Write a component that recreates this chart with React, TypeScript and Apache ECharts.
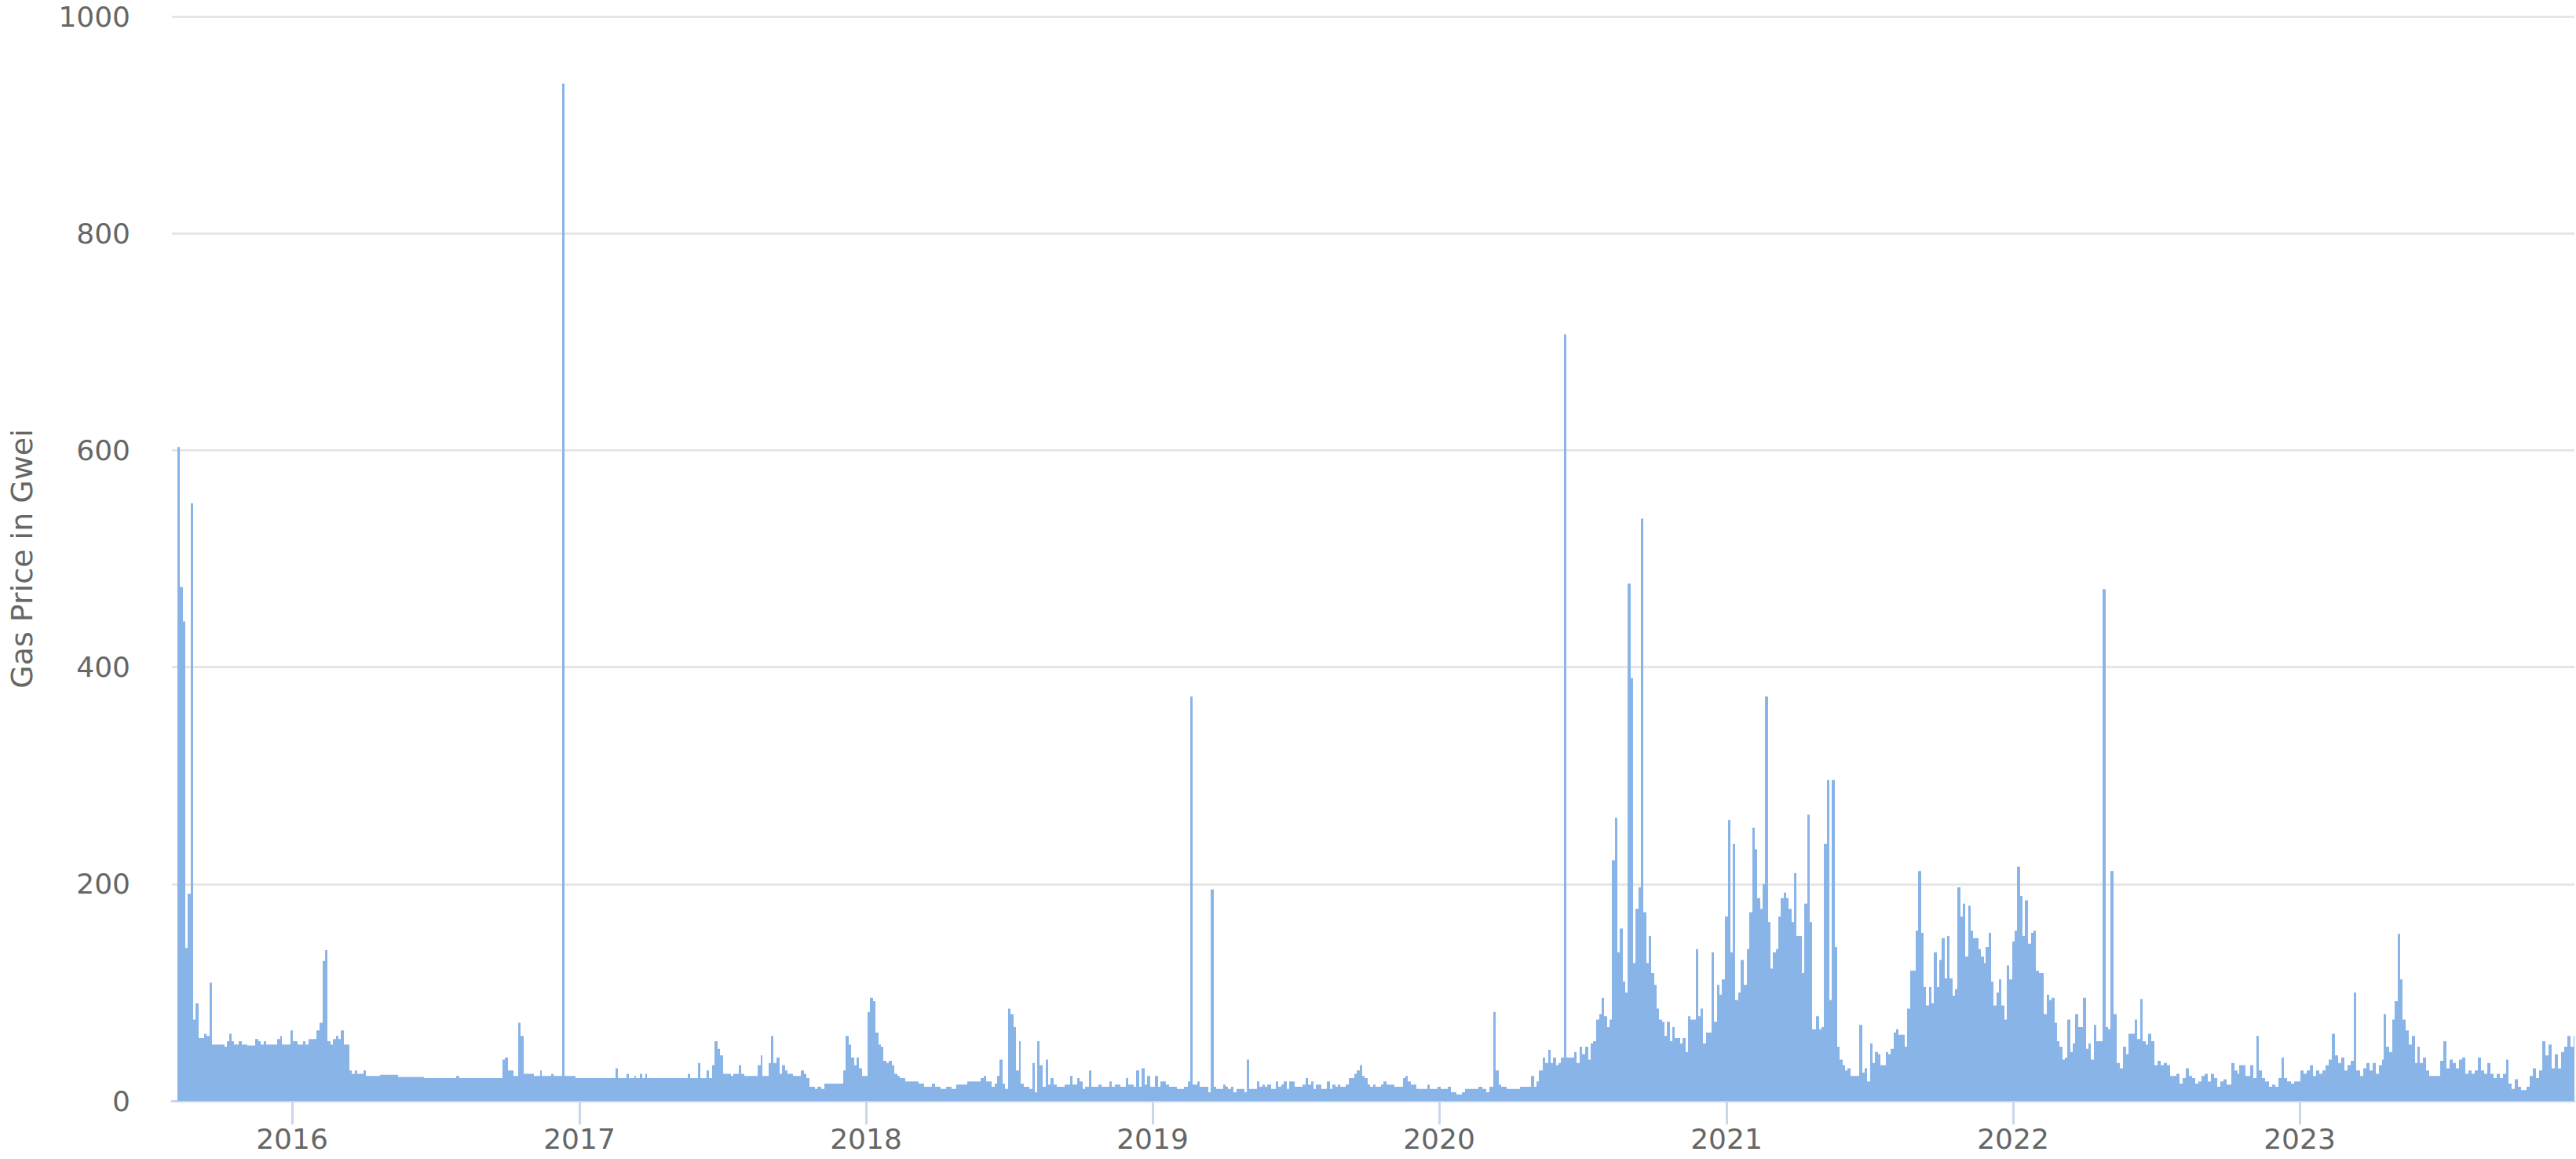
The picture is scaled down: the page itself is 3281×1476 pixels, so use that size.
import { useEffect, useRef } from 'react';
import * as echarts from 'echarts';

// Day 0 of every offset below is 2015-08-01. Each step is [days since start, gas price in Gwei];
// a step's value holds until the next step begins.
type Step = [number, number];

const yearTicks = ['2016', '2017', '2018', '2019', '2020', '2021', '2022', '2023'];
const END_DAY = 3060;

const gas2015: Step[] = [[7,603],[10,474],[14,442],[17,141],[20,191],[24,551],[27,75],[30,90],[34,58],[41,62],[44,60],[48,109],[51,52],[67,50],[70,55],[73,62],[76,55],[79,52],[85,55],[89,52],[96,51],[106,57],[110,55],[113,52],[117,55],[120,52],[134,57],[138,60],[140,52],[151,65]];

const gas2016: Step[] = [[154,55],[160,52],[167,55],[170,52],[174,57],[184,65],[188,72],[192,129],[195,139],[198,55],[202,52],[205,57],[209,60],[212,57],[215,65],[219,52],[226,28],[229,25],[233,28],[236,25],[244,28],[247,23],[265,24],[288,22],[321,21],[362,23],[366,21],[421,38],[424,40],[428,28],[435,23],[441,72],[444,60],[448,25],[461,23],[469,28],[471,23],[483,25],[486,23],[497,938],[500,23],[514,21]];

const gas2017: Step[] = [[565,30],[568,21],[579,25],[582,21],[589,23],[591,21],[596,25],[599,21],[603,25],[605,21],[657,25],[660,21],[670,35],[673,21],[681,28],[684,21],[688,33],[691,55],[695,48],[698,42],[702,25],[712,23],[715,25],[722,33],[725,25],[729,23],[746,33],[750,42],[752,23],[760,35],[763,60],[766,35],[770,40],[774,25],[777,33],[781,28],[784,25],[791,23],[801,28],[805,25],[808,21],[812,13],[819,11],[822,13],[827,11],[831,16],[855,28],[858,60],[862,52],[865,40],[869,33],[872,40],[875,30],[879,23]];

const gas2018: Step[] = [[886,82],[889,95],[893,92],[896,63],[900,52],[903,50],[906,37],[910,35],[913,37],[917,33],[920,25],[924,23],[927,21],[934,18],[951,16],[958,13],[968,16],[972,13],[979,11],[986,13],[993,11],[999,15],[1013,18],[1030,21],[1034,23],[1037,18],[1044,13],[1048,16],[1051,23],[1054,38],[1058,16],[1061,11],[1065,85],[1068,80],[1072,68],[1075,28],[1079,55],[1081,16],[1085,13],[1092,11],[1096,35],[1099,8],[1102,55],[1105,33],[1109,13],[1113,38],[1116,15],[1119,21],[1123,15],[1127,13],[1137,15],[1144,23],[1147,15],[1153,21],[1156,18],[1160,11],[1163,13],[1168,28],[1171,13],[1180,15],[1184,13],[1194,18],[1197,13],[1201,15],[1208,13],[1215,21],[1218,15],[1225,13],[1228,28],[1232,13],[1235,30],[1239,15],[1242,23],[1246,13]];

const gas2019: Step[] = [[1252,23],[1256,13],[1259,18],[1266,15],[1270,13],[1280,11],[1289,13],[1294,18],[1297,373],[1300,15],[1306,18],[1309,13],[1320,8],[1323,195],[1327,13],[1330,11],[1339,15],[1342,13],[1345,11],[1349,13],[1352,8],[1356,11],[1366,8],[1369,38],[1372,11],[1382,18],[1385,13],[1389,15],[1392,13],[1395,15],[1400,11],[1406,18],[1409,13],[1413,15],[1416,18],[1420,11],[1423,18],[1430,13],[1440,15],[1444,21],[1447,15],[1451,18],[1454,11],[1457,15],[1464,11],[1471,18],[1475,11],[1478,15],[1482,13],[1485,15],[1488,13],[1495,15],[1499,21],[1506,25],[1509,28],[1513,33],[1516,23],[1519,21],[1523,15],[1526,13],[1530,15],[1533,13],[1540,15],[1543,18],[1547,15],[1557,13],[1568,21],[1571,23],[1574,18],[1578,15],[1585,11],[1599,15],[1602,11],[1612,13]];

const gas2020: Step[] = [[1616,11],[1625,13],[1629,8],[1636,6],[1643,8],[1647,11],[1664,13],[1669,11],[1674,8],[1678,13],[1683,82],[1686,28],[1690,15],[1693,13],[1700,11],[1717,13],[1731,23],[1735,13],[1738,18],[1741,28],[1746,40],[1749,35],[1753,47],[1756,35],[1759,40],[1763,33],[1766,35],[1769,40],[1773,707],[1776,40],[1786,45],[1789,35],[1793,50],[1796,43],[1800,50],[1804,38],[1807,53],[1810,55],[1814,75],[1818,80],[1821,95],[1824,78],[1828,68],[1831,75],[1834,222],[1838,261],[1841,137],[1844,159],[1848,110],[1851,100],[1854,477],[1858,390],[1861,127],[1864,177],[1868,197],[1871,537],[1874,174],[1878,127],[1881,152],[1884,118],[1888,107],[1891,85],[1894,75],[1898,73],[1901,60],[1904,73],[1908,55],[1911,68],[1914,58],[1921,53],[1924,58],[1928,45],[1931,78],[1934,75],[1941,140],[1944,78],[1947,85],[1950,53],[1954,63],[1961,137],[1964,73],[1968,107],[1971,98],[1974,112],[1978,170]];

const gas2021: Step[] = [[1982,259],[1985,137],[1988,237],[1991,93],[1995,100],[1998,130],[2002,107],[2006,140],[2009,174],[2013,252],[2016,232],[2019,187],[2023,177],[2026,200],[2029,373],[2033,165],[2036,122],[2039,137],[2043,140],[2046,170],[2049,187],[2053,192],[2056,187],[2059,177],[2063,165],[2066,210],[2069,152],[2076,118],[2079,182],[2083,264],[2086,165],[2089,66],[2094,78],[2098,66],[2101,68],[2104,237],[2108,296],[2111,93],[2114,296],[2118,142],[2121,50],[2124,38],[2128,33],[2131,28],[2134,30],[2138,23],[2149,70],[2153,26],[2156,30],[2159,18],[2163,53],[2166,35],[2169,45],[2173,43],[2176,33],[2183,45],[2186,43],[2189,48],[2193,63],[2196,66],[2199,61],[2207,50],[2210,85],[2214,120],[2221,157],[2224,212],[2228,155],[2231,105],[2234,88],[2238,105],[2241,90],[2244,137],[2248,105],[2251,130],[2254,150],[2258,113],[2261,152],[2264,113],[2268,97],[2271,103],[2274,197],[2278,170],[2281,182],[2284,133],[2288,180],[2291,157],[2294,150],[2301,140],[2304,133],[2308,127],[2310,142],[2314,155],[2317,110],[2320,88],[2324,100],[2327,112],[2330,88],[2334,75],[2337,125],[2340,112],[2344,147]];

const gas2022: Step[] = [[2347,157],[2350,216],[2354,189],[2357,152],[2360,185],[2364,145],[2368,155],[2371,157],[2374,120],[2378,118],[2384,80],[2388,98],[2391,93],[2394,95],[2398,72],[2401,55],[2404,50],[2408,38],[2411,40],[2414,75],[2418,45],[2421,53],[2424,80],[2428,68],[2434,95],[2438,48],[2441,53],[2444,38],[2448,70],[2451,55],[2459,472],[2463,68],[2466,66],[2469,212],[2473,80],[2477,35],[2481,30],[2485,50],[2489,43],[2492,62],[2500,75],[2503,57],[2507,94],[2510,55],[2514,52],[2517,62],[2521,55],[2525,33],[2529,37],[2533,33],[2537,35],[2541,33],[2545,23],[2553,25],[2557,16],[2561,21],[2565,30],[2569,23],[2573,21],[2577,16],[2581,18],[2585,23],[2589,25],[2593,18],[2597,25],[2601,21],[2605,13],[2609,18],[2613,20],[2617,15],[2623,35],[2627,28],[2631,25],[2633,33],[2641,23],[2647,33],[2651,21],[2655,60],[2658,28],[2662,21],[2666,18],[2671,13],[2675,15],[2679,13],[2683,21],[2687,40],[2690,21],[2694,18],[2699,16],[2703,18]];

const gas2023: Step[] = [[2711,28],[2715,25],[2719,28],[2723,33],[2727,23],[2731,28],[2735,25],[2739,28],[2743,33],[2747,38],[2751,62],[2755,42],[2759,35],[2763,40],[2767,28],[2771,33],[2775,37],[2779,100],[2782,28],[2787,23],[2791,30],[2795,35],[2799,28],[2803,35],[2807,25],[2811,33],[2815,38],[2817,80],[2820,50],[2824,45],[2828,75],[2831,92],[2835,154],[2838,112],[2841,75],[2845,65],[2849,52],[2853,60],[2857,35],[2860,50],[2863,35],[2867,40],[2871,28],[2875,23],[2889,37],[2893,55],[2897,30],[2901,38],[2905,35],[2909,30],[2913,38],[2917,40],[2921,25],[2925,28],[2929,25],[2933,28],[2937,40],[2941,28],[2945,25],[2949,35],[2953,25],[2957,21],[2961,25],[2965,21],[2969,25],[2973,38],[2976,16],[2980,11],[2984,20],[2988,13],[2992,10],[2999,13],[3003,23],[3007,30],[3011,21],[3015,28],[3019,55],[3023,42],[3027,52],[3031,30],[3035,43],[3039,30],[3043,45],[3047,50],[3051,60],[3055,50],[3059,60]];

const DAY_MS = 86400000;
const START_UTC = Date.UTC(2015, 7, 1);
const yearToDay = (y: string) => Math.round((Date.UTC(Number(y), 0, 1) - START_UTC) / DAY_MS);

export default function App() {
  const ref = useRef<HTMLDivElement>(null);

  useEffect(() => {
    document.body.style.margin = '0';
    document.body.style.overflow = 'hidden';
    if (!ref.current) return;
    const chart = echarts.init(ref.current, null, { renderer: 'svg' });

    const steps = [...gas2015, ...gas2016, ...gas2017, ...gas2018, ...gas2019, ...gas2020, ...gas2021, ...gas2022, ...gas2023];
    const data = steps.map(([d, v]) => [d, v]);
    data.push([END_DAY, steps[steps.length - 1][1]]);
    const tickDays = yearTicks.map(yearToDay);
    const labelFor = (v: number) => {
      const i = tickDays.indexOf(Math.round(v));
      return i >= 0 ? yearTicks[i] : '';
    };

    const font = 'DejaVu Sans';
    chart.setOption({
      animation: false,
      backgroundColor: '#ffffff',
      grid: { left: 219, right: 2, top: 21, bottom: 74 },
      xAxis: {
        type: 'value',
        min: 0,
        max: END_DAY,
        axisLine: { show: true, onZero: false, lineStyle: { color: '#ccd6eb', width: 3 } },
        axisTick: { show: true, length: 30, customValues: tickDays, lineStyle: { color: '#ccd6eb', width: 3 } },
        axisLabel: {
          customValues: tickDays,
          formatter: labelFor,
          color: '#666666',
          fontSize: 36,
          fontFamily: font,
          margin: 30,
        },
        splitLine: { show: false },
      },
      yAxis: {
        type: 'value',
        min: 0,
        max: 1000,
        interval: 200,
        name: 'Gas Price in Gwei',
        nameLocation: 'middle',
        nameRotate: 90,
        nameGap: 172,
        nameTextStyle: { color: '#666666', fontSize: 38, fontFamily: font },
        axisLabel: {
          color: '#666666',
          fontSize: 36,
          fontFamily: font,
          margin: 53,
          formatter: (v: number) => String(v),
        },
        axisLine: { show: false },
        axisTick: { show: false },
        splitLine: { show: true, lineStyle: { color: '#e6e6e6', width: 3 } },
      },
      series: [
        {
          type: 'line',
          step: 'end',
          data,
          symbol: 'none',
          showSymbol: false,
          lineStyle: { width: 0 },
          itemStyle: { color: '#88b4e8' },
          areaStyle: { color: '#88b4e8', opacity: 1 },
        },
      ],
    });

    return () => chart.dispose();
  }, []);

  return <div ref={ref} style={{ width: 3281, height: 1476 }} />;
}
